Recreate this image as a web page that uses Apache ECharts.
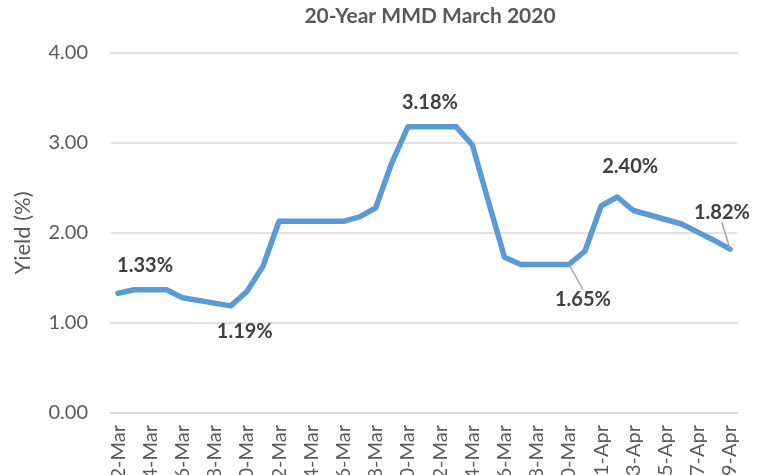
<!DOCTYPE html>
<html>
<head>
<meta charset="utf-8">
<script src="https://cdn.jsdelivr.net/npm/echarts@6/dist/echarts.min.js"></script>
<style>
  html, body { margin: 0; padding: 0; background: #fff; }
  #chart { width: 764px; height: 475px; }
</style>
</head>
<body>
<div id="chart"></div>
<script>
// calendar days on the date axis (labels shown every other day)
var days = ['2-Mar', '3-Mar', '4-Mar', '5-Mar', '6-Mar', '7-Mar', '8-Mar', '9-Mar', '10-Mar',
  '11-Mar', '12-Mar', '13-Mar', '14-Mar', '15-Mar', '16-Mar', '17-Mar', '18-Mar', '19-Mar',
  '20-Mar', '21-Mar', '22-Mar', '23-Mar', '24-Mar', '25-Mar', '26-Mar', '27-Mar', '28-Mar',
  '29-Mar', '30-Mar', '31-Mar', '1-Apr', '2-Apr', '3-Apr', '4-Apr', '5-Apr', '6-Apr', '7-Apr',
  '8-Apr', '9-Apr'];

// trading days and 20-year MMD yield (%)
var dates = ['2-Mar', '3-Mar', '4-Mar', '5-Mar', '6-Mar', '9-Mar', '10-Mar', '11-Mar', '12-Mar',
  '13-Mar', '16-Mar', '17-Mar', '18-Mar', '19-Mar', '20-Mar', '23-Mar', '24-Mar', '25-Mar',
  '26-Mar', '27-Mar', '30-Mar', '31-Mar', '1-Apr', '2-Apr', '3-Apr', '6-Apr', '7-Apr', '8-Apr', '9-Apr'];
var yields = [1.33, 1.37, 1.37, 1.37, 1.28, 1.19, 1.35, 1.63, 2.13,
  2.13, 2.13, 2.18, 2.28, 2.78, 3.18, 3.18, 2.98, 2.35,
  1.73, 1.65, 1.65, 1.80, 2.30, 2.40, 2.25, 2.10, 2.01, 1.92, 1.82];

var yTicks = [0, 1, 2, 3, 4];

// which points get a data label, and how far the label is pushed from the point
var callouts = {
  '2-Mar':  { dx: 27, dy: -28 },
  '9-Mar':  { dx: 14, dy: 26 },
  '20-Mar': { dx: 22, dy: -24 },
  '30-Mar': { dx: 14, dy: 35, line: true },
  '2-Apr':  { dx: 13, dy: -30 },
  '9-Apr':  { dx: -8, dy: -37, line: true }
};

var seriesData = days.map(function (d) {
  var i = dates.indexOf(d);
  if (i < 0) return null;
  var item = { value: yields[i] };
  var c = callouts[d];
  if (c) {
    item.label = {
      show: true,
      position: 'inside',
      formatter: yields[i].toFixed(2) + '%'
    };
    if (c.line) {
      item.labelLine = { show: true, lineStyle: { color: '#a6a6a6', width: 1.5 } };
    }
  }
  return item;
});

var font = 'Lato, "Liberation Sans", sans-serif';

var option = {
  animation: false,
  backgroundColor: '#fff',
  title: {
    text: '20-Year MMD March 2020',
    left: 425,
    top: 1,
    textAlign: 'center',
    textStyle: { color: '#595959', fontSize: 21, fontWeight: 'bold', fontFamily: font }
  },
  grid: { left: 110, right: 26, top: 53, bottom: 62, containLabel: false, outerBoundsMode: 'none' },
  xAxis: {
    type: 'category',
    data: days,
    boundaryGap: true,
    axisTick: { show: false },
    axisLine: { lineStyle: { color: '#d9d9d9', width: 1.5 } },
    axisLabel: {
      interval: 1,
      rotate: 90,
      margin: 12,
      color: '#595959',
      fontSize: 20,
      fontFamily: font
    }
  },
  yAxis: {
    type: 'value',
    min: yTicks[0],
    max: yTicks[yTicks.length - 1],
    interval: 1,
    name: 'Yield (%)',
    nameLocation: 'middle',
    nameRotate: 90,
    nameGap: 76,
    nameTextStyle: { color: '#595959', fontSize: 22, fontFamily: font },
    axisLine: { show: false },
    axisTick: { show: false },
    splitLine: { lineStyle: { color: '#d9d9d9', width: 1.5 } },
    axisLabel: {
      margin: 22,
      color: '#595959',
      fontSize: 20,
      fontFamily: font,
      formatter: function (v) { return v.toFixed(2); }
    }
  },
  series: [{
    type: 'line',
    data: seriesData,
    connectNulls: true,
    showSymbol: true,
    symbol: 'circle',
    symbolSize: 1,
    itemStyle: { color: '#5b9bd5' },
    lineStyle: { color: '#5b9bd5', width: 5.5, join: 'round', cap: 'round' },
    label: {
      color: '#404040',
      fontSize: 20,
      fontWeight: 'bold',
      fontFamily: font
    },
    labelLayout: function (params) {
      var c = callouts[days[params.dataIndex]];
      if (!c) return {};
      return { dx: c.dx, dy: c.dy };
    },
    emphasis: { disabled: true }
  }]
};

var chart = echarts.init(document.getElementById('chart'));
chart.setOption(option);
</script>
</body>
</html>
